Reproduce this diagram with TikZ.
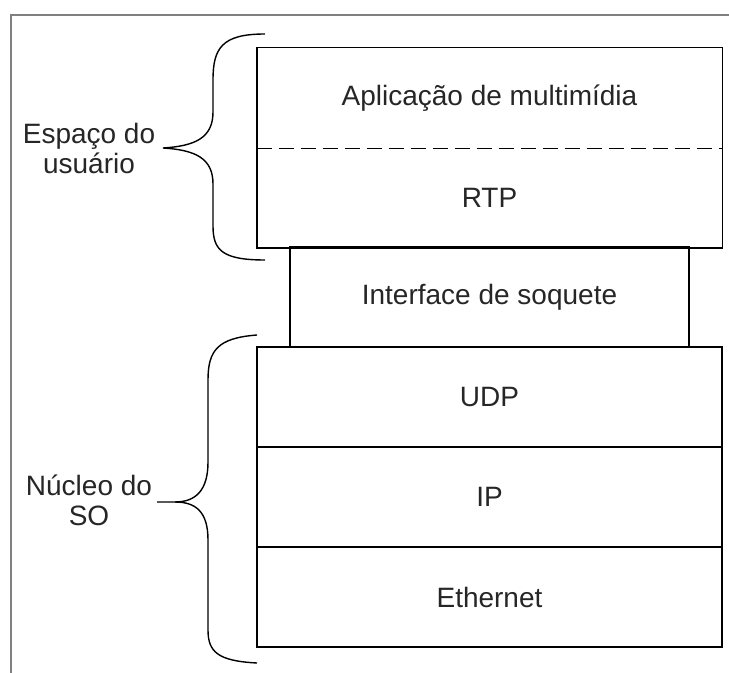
\documentclass[tikz,border=0pt]{standalone}
\usepackage{fontspec}
\setmainfont{Liberation Sans}
\begin{document}
\begin{tikzpicture}[x=0.5pt,y=-0.5pt,
    every node/.style={font=\fontsize{14}{15}\selectfont, text=black!85},
    cell/.style={minimum width=232.5pt, minimum height=50pt, inner sep=0pt},
    layer/.style={cell, draw, line width=0.9pt},
    brace/.style={line width=0.7pt},
    frame/.style={draw=black!50, line width=1.4pt}]
    \useasboundingbox (0,0) rectangle (729,673);
    % Outer frame (left and top only)
    \draw[frame] (11,673) -- (11,15) -- (729,15);
    % User space: application and RTP
    \node[cell] (app) at (489.5,98) {Aplicação de multimídia};
    \node[cell] (rtp) at (489.5,197.5) {RTP};
    \draw[line width=0.9pt] (app.north west) rectangle (rtp.south east);
    \draw[dashed, dash pattern=on 7.5pt off 3.5pt, line width=0.7pt] (app.south west) -- (app.south east);
    % Socket interface
    \node[layer, minimum width=199.5pt] (sock) at (489.5,297) {Interface de soquete};
    % Kernel layers
    \node[layer] (udp) at (489.5,397) {UDP};
    \node[layer] (ip) at (489.5,497) {IP};
    \node[layer] (eth) at (489.5,597) {Ethernet};
    % Labels
    \node[align=center] (user) at (89,148) {Espaço do\\usuário};
    \node[align=center] (kernel) at (89,500) {Núcleo do\\SO};
    % Braces
    \draw[brace] (265,34) .. controls (222,34) and (213,48) .. (213,80) -- (213,112)
      .. controls (213,138) and (195,146) .. (163,148)
      .. controls (195,150) and (213,158) .. (213,184) -- (213,226)
      .. controls (213,250) and (222,260) .. (265,260);
    \draw[brace] (257,335) .. controls (218,338) and (208,350) .. (208,380) -- (208,462)
      .. controls (208,490) and (196,502) .. (175,502) -- (157,502);
    \draw[brace] (175,502) .. controls (196,502) and (208,512) .. (208,540) -- (208,630)
      .. controls (208,652) and (218,661) .. (257,663);
\end{tikzpicture}
\end{document}
